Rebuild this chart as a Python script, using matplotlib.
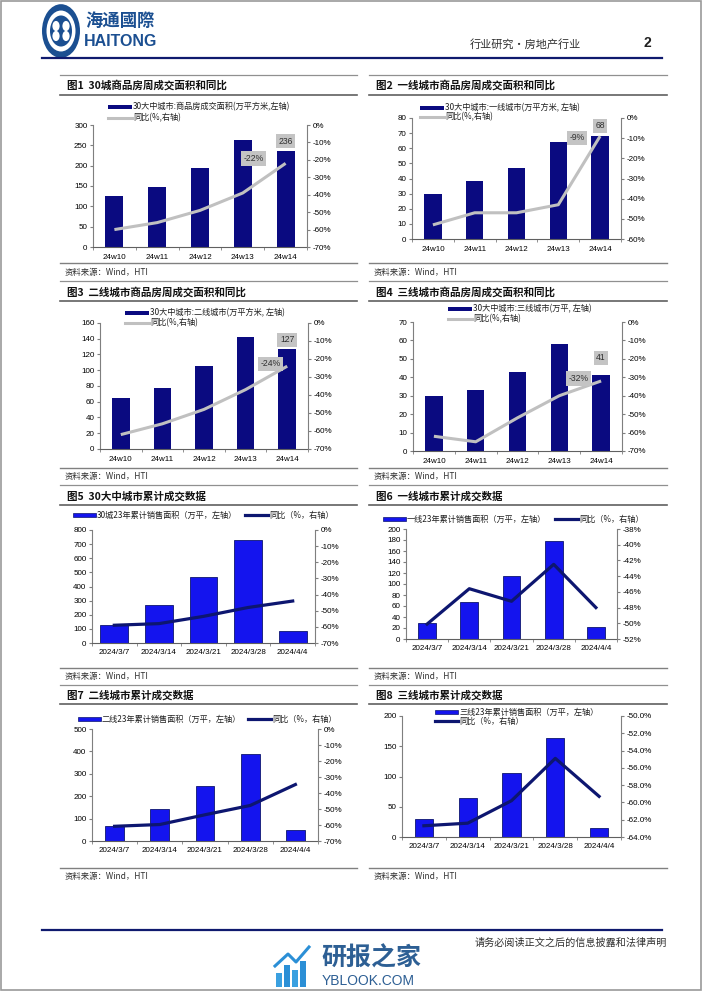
import matplotlib
matplotlib.use('Agg')
import matplotlib.pyplot as plt
from matplotlib.patches import Rectangle, Circle
from matplotlib.lines import Line2D
from matplotlib.ticker import FuncFormatter

plt.rcParams['font.family'] = ['Liberation Sans', 'Noto Sans CJK SC', 'DejaVu Sans']
CJK = ['Noto Sans CJK SC', 'Liberation Sans', 'DejaVu Sans']

# ---- data ----
weeks = ['24w10', '24w11', '24w12', '24w13', '24w14']
dates = ['2024/3/7', '2024/3/14', '2024/3/21', '2024/3/28', '2024/4/4']

area_30 = [125, 148, 195, 262, 236]
yoy_30 = [-60, -56, -49, -39, -22]
area_t1 = [29.5, 38.5, 47, 64, 68]
yoy_t1 = [-53, -47, -47, -43, -9]
area_t2 = [65, 78, 105, 142, 127]
yoy_t2 = [-62, -56, -48, -37, -24]
area_t3 = [30, 33, 43, 58, 41]
yoy_t3 = [-62, -65, -52, -40, -32]

cum_30 = [127, 272, 470, 729, 85]
cum_yoy_30 = [-59, -58, -53.5, -48, -44]
cum_t1 = [30, 68, 114, 179, 21]
cum_yoy_t1 = [-50.1, -45.6, -47.2, -42.5, -48]
cum_t2 = [65, 142, 247, 390, 48]
cum_yoy_t2 = [-60.8, -59.7, -53.6, -47.8, -34.7]
cum_t3 = [30, 64, 106, 164, 15]
cum_yoy_t3 = [-62.7, -62.4, -59.8, -54.9, -59.3]

NAVY = '#0a0a80'
BLUE = '#1414ee'
DARK = '#0d1670'
GRAY = '#c0c0c0'
AXC = '#7f7f7f'
TICK_FS = 5.8
W, H = 702, 991

fig = plt.figure(figsize=(W / 100, H / 100), dpi=100)
fig.patch.set_facecolor('white')


def fx(x):
    return x / W


def fy(y):
    return 1 - y / H


def px_axes(l, t, r, b):
    return fig.add_axes([fx(l), fy(b), (r - l) / W, (b - t) / H])


def hline(x0, x1, y, color='#808080', lw=1.0):
    fig.add_artist(Line2D([fx(x0), fx(x1)], [fy(y), fy(y)], color=color, lw=lw))


def ftext(x, y, s, **kw):
    fig.text(fx(x), fy(y), s, **kw)


def pct(dec=0):
    return FuncFormatter(lambda v, p: ('%.' + str(dec) + 'f%%') % v)


def style_axes(ax, ax2, labels, lab_pad):
    ax.set_xlim(-0.5, 4.5)
    ax.set_xticks(range(5))
    ax.set_xticklabels(labels)
    ax.set_xticks([i - 0.5 for i in range(6)], minor=True)
    ax.tick_params(axis='x', which='major', length=0, pad=lab_pad, labelsize=TICK_FS)
    ax.tick_params(axis='x', which='minor', length=2.5, color=AXC, direction='out')
    ax.tick_params(axis='y', length=2.5, pad=1.5, color=AXC, labelsize=TICK_FS, direction='out')
    ax2.tick_params(axis='y', length=2.5, pad=1.5, color=AXC, labelsize=TICK_FS, direction='out')
    for s in ['top', 'right']:
        ax.spines[s].set_visible(False)
    for s in ['top', 'left', 'bottom']:
        ax2.spines[s].set_visible(False)
    ax.spines['left'].set_color(AXC)
    ax.spines['bottom'].set_color('#606060')
    ax2.spines['right'].set_color(AXC)
    for sp in list(ax.spines.values()) + list(ax2.spines.values()):
        sp.set_linewidth(0.8)
    ax.patch.set_alpha(0)


def tag(ax, x, y, s):
    ax.text(x, y, s, ha='center', va='center', fontsize=6.2, color='#303030',
            bbox=dict(boxstyle='square,pad=0.3', fc='#c4c4c4', ec='none'), zorder=5)


def weekly(box, area, yoy, ymax, ystep, rmin, leg, leg_x, leg_y, yoy_tag, bar_tag):
    ax = px_axes(*box)
    ax.bar(range(5), area, width=0.42, color=NAVY, zorder=2)
    ax.set_ylim(0, ymax)
    ax.set_yticks(range(0, ymax + 1, ystep))
    ax2 = ax.twinx()
    ax2.plot(range(5), yoy, color=GRAY, lw=2.2, solid_capstyle='butt')
    ax2.set_ylim(rmin, 0)
    ax2.set_yticks(range(rmin, 1, 10))
    ax2.yaxis.set_major_formatter(pct())
    style_axes(ax, ax2, weeks, 5.0)
    tag(ax2, yoy_tag[0], yoy_tag[1], '%d%%' % yoy[-1])
    tag(ax2, bar_tag[0], bar_tag[1], '%d' % area[-1])
    # legend
    fig.add_artist(Rectangle((fx(leg_x), fy(leg_y[0] + 2.4)), 24 / W, 4.8 / H,
                             transform=fig.transFigure, fc=NAVY, ec='none'))
    fig.add_artist(Line2D([fx(leg_x), fx(leg_x + 24)], [fy(leg_y[1])] * 2, color=GRAY, lw=2.2))
    ftext(leg_x + 25, leg_y[0], leg, family=CJK, fontsize=5.9, va='center', color='#202020')
    ftext(leg_x + 25, leg_y[1], '同比(%,右轴)', family=CJK, fontsize=5.9, va='center', color='#202020')
    return ax


def cumul(box, area, yoy, ymax, ystep, rlim, rstep, rdec, bw, leg, leg_bar, leg_line):
    ax = px_axes(*box)
    ax.bar(range(5), area, width=bw, color=BLUE, edgecolor=DARK, lw=0.6, zorder=2)
    ax.set_ylim(0, ymax)
    ax.set_yticks(range(0, ymax + 1, ystep))
    ax2 = ax.twinx()
    ax2.plot(range(5), yoy, color=DARK, lw=2.3, solid_joinstyle='round')
    ax2.set_ylim(*rlim)
    n = int(round((rlim[1] - rlim[0]) / rstep))
    ax2.set_yticks([rlim[0] + i * rstep for i in range(n + 1)])
    ax2.yaxis.set_major_formatter(pct(rdec))
    style_axes(ax, ax2, dates, 4.5)
    bx, by = leg_bar
    fig.add_artist(Rectangle((fx(bx), fy(by + 2.4)), 23 / W, 4.8 / H,
                             transform=fig.transFigure, fc=BLUE, ec=DARK, lw=0.5))
    ftext(bx + 24, by, leg, family=CJK, fontsize=5.9, va='center', color='#202020')
    lx, ly = leg_line
    fig.add_artist(Line2D([fx(lx), fx(lx + 23)], [fy(ly)] * 2, color=DARK, lw=2.3))
    ftext(lx + 24, ly, '同比（%，右轴）', family=CJK, fontsize=5.9, va='center', color='#202020')
    return ax


# ---- page header ----
fig.add_artist(Circle((fx(61), fy(31)), 19 / W, transform=fig.transFigure, fc='#1b4f91', ec='none'))
fig.add_artist(Circle((fx(61), fy(31)), 14.5 / W, transform=fig.transFigure, fc='white', ec='none'))
fig.add_artist(Circle((fx(61), fy(31)), 11 / W, transform=fig.transFigure, fc='#1b4f91', ec='none'))
for dx, dy in [(-5, -5), (5, -5), (-5, 5), (5, 5)]:
    fig.add_artist(Circle((fx(61 + dx), fy(31 + dy)), 3.6 / W, transform=fig.transFigure,
                          fc='white', ec='none'))
ftext(85, 21, '海通國際', family=CJK, fontsize=12.5, fontweight='bold', color='#1b4f91', va='center')
ftext(84, 41, 'HAITONG', fontsize=11.5, fontweight='bold', color='#1b4f91', va='center')
ftext(470, 44, '行业研究•房地产行业', family=CJK, fontsize=8, color='#303030', va='center')
ftext(643, 43, '2', fontsize=10, fontweight='bold', color='#202020', va='center')
hline(42, 662, 58, color='#0f1a6e', lw=1.6)

# ---- panel frames: titles, rules, sources ----
titles = [('图1  30城商品房周成交面积和同比', '图2  一线城市商品房周成交面积和同比'),
          ('图3  二线城市商品房周成交面积和同比', '图4  三线城市商品房周成交面积和同比'),
          ('图5  30大中城市累计成交数据', '图6  一线城市累计成交数据'),
          ('图7  二线城市累计成交数据', '图8  三线城市累计成交数据')]
rows = [(75, 85, 95, 263, 272), (281, 292, 301, 468, 476),
        (485, 496, 505, 668, 677), (685, 695, 704, 868, 876)]
for (t_left, t_right), (top, ty, under, bot, sy) in zip(titles, rows):
    for (x0, x1), t in zip([(60, 357), (369, 667)], [t_left, t_right]):
        hline(x0, x1, top, color='#909090', lw=0.9)
        hline(x0, x1, under, color='#606060', lw=1.2)
        hline(x0, x1, bot, color='#808080', lw=1.0)
        ftext(x0 + 7, ty, t, family=CJK, fontsize=7.6, fontweight='bold', va='center', color='#111111')
        ftext(x0 + 5, sy, '资料来源：Wind，HTI', family=CJK, fontsize=6, va='center', color='#303030')

# ---- weekly charts ----
weekly((93, 125, 307, 247), area_30, yoy_30, 300, 50, -70,
       '30大中城市:商品房成交面积(万平方米,左轴)', 108, (107, 118), (3.25, -19.2), (4, -9.2))
weekly((412, 118, 621, 239), area_t1, yoy_t1, 80, 10, -60,
       '30大中城市:一线城市(万平方米, 左轴)', 420, (108, 117), (3.45, -9.9), (4, -3.8))
weekly((100, 323, 308, 449), area_t2, yoy_t2, 160, 20, -70,
       '30大中城市:二线城市(万平方米, 左轴)', 125, (313, 323), (3.6, -22.6), (4, -9.3))
weekly((413, 322, 622, 451), area_t3, yoy_t3, 70, 10, -70,
       '30大中城市:三线城市(万平, 左轴)', 448, (309, 319), (3.46, -30.7), (4, -19.5))

# ---- cumulative charts ----
cumul((92, 530, 315, 643), cum_30, cum_yoy_30, 800, 100, (-70, 0), 10, 0, 0.62,
      '30城23年累计销售面积（万平，左轴）', (73, 515), (245, 515))
cumul((406, 529, 617, 639), cum_t1, cum_yoy_t1, 200, 20, (-52, -38), 2, 0, 0.42,
      '一线23年累计销售面积（万平，左轴）', (383, 519), (555, 519))
cumul((92, 729, 318, 841), cum_t2, cum_yoy_t2, 500, 100, (-70, 0), 10, 0, 0.42,
      '二线23年累计销售面积（万平，左轴）', (78, 719), (248, 719))
cumul((402, 716, 621, 837), cum_t3, cum_yoy_t3, 200, 50, (-64, -50), 2, 1, 0.42,
      '三线23年累计销售面积（万平，左轴）', (435, 712), (435, 721))

# ---- footer ----
hline(42, 662, 930, color='#0f1a6e', lw=1.6)
ftext(667, 943, '请务必阅读正文之后的信息披露和法律声明', family=CJK, fontsize=7.3,
      ha='right', va='center', color='#303030')
for i, (bx, bh) in enumerate([(276, 14), (284, 22), (292, 17), (300, 26)]):
    fig.add_artist(Rectangle((fx(bx), fy(987)), 5.5 / W, bh / H, transform=fig.transFigure,
                             fc=['#3aa0e0', '#2b8fd6', '#3aa0e0', '#2b8fd6'][i], ec='none'))
fig.add_artist(Line2D([fx(275), fx(288), fx(296), fx(309)], [fy(966), fy(954), fy(962), fy(947)],
                      color='#2b8fd6', lw=2.2))
ftext(321, 958, '研报之家', family=CJK, fontsize=18, fontweight='bold', color='#2d5f94', va='center')
ftext(322, 981, 'YBLOOK.COM', fontsize=10, color='#2d5f94', va='center')

fig.add_artist(Rectangle((0.001, 0.001), 0.998, 0.998, transform=fig.transFigure,
                         fill=False, ec='#9a9a9a', lw=1.2))

fig.savefig('out.png', dpi=100)
